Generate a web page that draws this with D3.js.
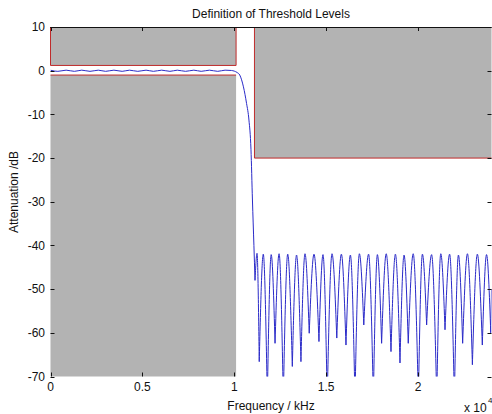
<!DOCTYPE html>
<html lang="en">
<head>
<meta charset="UTF-8">
<title>Definition of Threshold Levels</title>
<style>
  body { margin: 0; background: #fff; }
  text { font-family: "Liberation Sans", Arial, sans-serif; fill: #111; }
</style>
</head>
<body>
<div id="chart"></div>
<script src="https://d3js.org/d3.v7.min.js"></script>
<script>
// axis ticks
const xTicks = [0, 0.5, 1, 1.5, 2];
const yTicks = [10, 0, -10, -20, -30, -40, -50, -60, -70];

// threshold masks (frequency x 10^4 Hz, level dB)
const passEdge = 1.01, stopEdge = 1.11;
const passUpper = 1.2, passLower = -1.0, stopUpper = -20;

// passband ripple
const passF  = [0, 0.04, 0.085, 0.13, 0.17, 0.215, 0.26, 0.3, 0.345, 0.39, 0.43, 0.475, 0.52, 0.56, 0.605, 0.65, 0.69, 0.735, 0.78, 0.82, 0.865, 0.91, 0.95, 0.985];
const passDb = [0.1, -0.15, 0.12, -0.15, 0.12, -0.15, 0.12, -0.15, 0.12, -0.15, 0.12, -0.15, 0.12, -0.15, 0.12, -0.15, 0.12, -0.15, 0.12, -0.15, 0.12, -0.15, 0.12, 0.05];

// transition band
const transF  = [1.0, 1.015, 1.03, 1.05, 1.067, 1.08, 1.091, 1.099, 1.107, 1.113];
const transDb = [-0.1, -0.4, -1.0, -3.7, -7.5, -11.3, -18, -29.6, -40, -48];

// stopband lobes: peak before each null
const peakF  = [1.124, 1.158, 1.201, 1.244, 1.291, 1.339, 1.385, 1.434, 1.483, 1.532, 1.583, 1.632, 1.681, 1.731, 1.779, 1.827, 1.877, 1.924, 1.974, 2.024, 2.074, 2.124, 2.172, 2.220, 2.269, 2.323, 2.373];
const peakDb = [-41.8, -42, -42.1, -41.9, -42, -42.2, -41.9, -42, -42.1, -41.9, -42, -42.2, -41.9, -42, -42.1, -41.9, -42, -42.2, -41.9, -42, -42.1, -41.9, -42, -42.2, -41.9, -42, -42.1];
const nullF  = [1.136, 1.180, 1.222, 1.267, 1.316, 1.363, 1.408, 1.461, 1.506, 1.558, 1.608, 1.657, 1.705, 1.757, 1.802, 1.853, 1.902, 1.947, 2.002, 2.047, 2.102, 2.147, 2.198, 2.243, 2.296, 2.350, 2.396];
const nullDb = [-66.6, -75, -62.4, -75, -67.7, -66.6, -60.1, -62, -75, -61.2, -62.8, -75, -58.2, -75, -62.4, -64.3, -66.9, -62.4, -75, -58.2, -75, -59.3, -75, -62.4, -67.3, -62.8, -60];
const endF = 2.4, endDb = -50;

const W = 492, H = 414;
const svg = d3.select("#chart").append("svg").attr("width", W).attr("height", H);

const x = d3.scaleLinear().domain([0, 2.4]).range([50.5, 491.5]);
const y = d3.scaleLinear().domain([-70, 10]).range([376.5, 27]);

// passband + transition as one piece
let head = passF.map((f, i) => [f, passDb[i]]);
transF.forEach((f, i) => head.push([f, transDb[i]]));

// stopband: one piece per lobe, null -> peak -> null
let lobes = [];
let prev = [transF[transF.length - 1], transDb[transDb.length - 1]];
peakF.forEach((f, i) => {
  const nxt = [nullF[i], nullDb[i]];
  lobes.push([prev, [f, peakDb[i]], nxt]);
  prev = nxt;
});
lobes.push([prev, [endF, endDb]]);

svg.append("clipPath").attr("id", "plot")
  .append("rect")
  .attr("x", x(0)).attr("y", y(10))
  .attr("width", x(2.4) - x(0)).attr("height", y(-70) - y(10));

const gray = "#b3b3b3", red = "#bf2b2b";

// gray masks
svg.append("rect").attr("x", x(0)).attr("y", y(10))
  .attr("width", x(passEdge) - x(0)).attr("height", y(passUpper) - y(10)).attr("fill", gray);
svg.append("rect").attr("x", x(0)).attr("y", y(passLower))
  .attr("width", x(passEdge) - x(0)).attr("height", y(-70) - y(passLower)).attr("fill", gray);
svg.append("rect").attr("x", x(stopEdge)).attr("y", y(10))
  .attr("width", x(2.4) - x(stopEdge)).attr("height", y(stopUpper) - y(10)).attr("fill", gray);

// red threshold outlines
const path = d3.line().x(d => x(d[0])).y(d => y(d[1]));
svg.append("path")
  .attr("d", path([[0, 10], [0, passUpper], [passEdge, passUpper], [passEdge, 10]]))
  .attr("fill", "none").attr("stroke", red).attr("stroke-width", 1);
svg.append("path")
  .attr("d", path([[0, passLower], [passEdge, passLower]]))
  .attr("fill", "none").attr("stroke", red).attr("stroke-width", 1);
svg.append("path")
  .attr("d", path([[stopEdge, 10], [stopEdge, stopUpper], [2.4, stopUpper]]))
  .attr("fill", "none").attr("stroke", red).attr("stroke-width", 1);

// filter response
const curve = d3.line().x(d => x(d[0])).y(d => y(d[1])).curve(d3.curveMonotoneX);
const resp = svg.append("g").attr("clip-path", "url(#plot)")
  .attr("fill", "none").attr("stroke", "#2a2ac8").attr("stroke-width", 1);
resp.append("path").attr("d", curve(head));
resp.selectAll(".lobe").data(lobes).join("path")
  .attr("class", "lobe")
  .attr("d", d => curve(d));

// inward ticks, MATLAB style
const tl = 4;
const ticks = svg.append("g").attr("stroke", "#111").attr("stroke-width", 1);
xTicks.forEach(t => {
  const px = Math.round(x(t)) + 0.5;
  ticks.append("line").attr("x1", px).attr("x2", px).attr("y1", y(-70)).attr("y2", y(-70) - tl);
  ticks.append("line").attr("x1", px).attr("x2", px).attr("y1", y(10)).attr("y2", y(10) + tl);
});
yTicks.forEach(t => {
  const py = Math.round(y(t)) + 0.5;
  ticks.append("line").attr("x1", x(0)).attr("x2", x(0) + tl).attr("y1", py).attr("y2", py);
  ticks.append("line").attr("x1", x(2.4)).attr("x2", x(2.4) - tl).attr("y1", py).attr("y2", py);
});
// top box line
svg.append("line").attr("x1", x(0)).attr("x2", x(2.4)).attr("y1", 27.5).attr("y2", 27.5)
  .attr("stroke", "#111").attr("stroke-width", 1);

// tick labels
svg.append("g").selectAll("text").data(xTicks).join("text")
  .attr("x", d => x(d)).attr("y", 391)
  .attr("text-anchor", "middle").attr("font-size", 12)
  .text(d => d);
svg.append("g").selectAll("text").data(yTicks).join("text")
  .attr("x", 45).attr("y", d => y(d)).attr("dy", "0.35em")
  .attr("text-anchor", "end").attr("font-size", 12)
  .text(d => d);

// titles
svg.append("text").attr("x", 271).attr("y", 18).attr("text-anchor", "middle")
  .attr("font-size", 12).text("Definition of Threshold Levels");
svg.append("text").attr("x", 271).attr("y", 410).attr("text-anchor", "middle")
  .attr("font-size", 12).text("Frequency / kHz");
svg.append("text").attr("transform", "translate(18,192) rotate(-90)")
  .attr("text-anchor", "middle").attr("font-size", 12).text("Attenuation /dB");
svg.append("text").attr("x", 464).attr("y", 412).attr("font-size", 12).text("x 10");
svg.append("text").attr("x", 488).attr("y", 403).attr("font-size", 8).text("4");
</script>
</body>
</html>
